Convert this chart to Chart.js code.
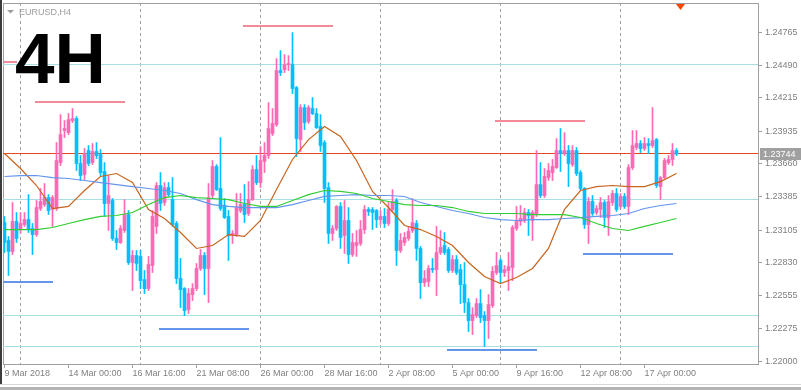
<!DOCTYPE html>
<html><head><meta charset="utf-8">
<script src="https://cdn.jsdelivr.net/npm/chart.js@4.4.1/dist/chart.umd.min.js"></script>
<style>html,body{margin:0;padding:0;background:#fff;overflow:hidden}#wrap{position:relative;width:801px;height:390px}</style>
</head><body><div id="wrap"><canvas id="c" width="801" height="390"></canvas></div>
<script>
const symbolTitle = 'EURUSD,H4';
const bigLabel = '4H';
const xTickIndex = [0,16,32,48,64,80,96,112,128,144,160];
const xTickLabels = ['9 Mar 2018','14 Mar 00:00','16 Mar 16:00','21 Mar 08:00','26 Mar 00:00','28 Mar 16:00','2 Apr 08:00','5 Apr 00:00','9 Apr 16:00','12 Apr 08:00','17 Apr 00:00'];
const yTickValues = [1.22000,1.22275,1.22555,1.22830,1.23105,1.23385,1.23660,1.23935,1.24215,1.24490,1.24765];
const gridIndex = [4,34,64,94,124,154];

const open = [1.23168,1.23017,1.22925,1.23177,1.23109,1.23151,1.23193,1.23118,1.23067,1.23286,
1.23319,1.23378,1.23278,1.23286,1.23672,1.23941,1.23924,1.24025,1.24042,1.23664,
1.23571,1.23773,1.23672,1.23765,1.23739,1.23597,1.23328,1.23353,1.23034,1.23000,
1.23101,1.23235,1.22832,1.22891,1.22883,1.22689,1.22613,1.22807,1.23135,1.23479,
1.23336,1.23462,1.23361,1.23160,1.22697,1.22613,1.22436,1.22562,1.22613,1.22782,
1.22891,1.22782,1.23395,1.23639,1.23454,1.23311,1.23219,1.23059,1.23067,1.23269,
1.23319,1.23244,1.23361,1.23613,1.23504,1.23681,1.23731,1.23916,1.23991,1.24445,
1.24453,1.24495,1.24495,1.24302,1.23865,1.24134,1.24017,1.24126,1.24084,1.23975,
1.23840,1.23462,1.23076,1.23118,1.23303,1.23059,1.23185,1.22899,1.22975,1.22992,
1.23109,1.23278,1.23278,1.23269,1.23193,1.23219,1.23160,1.23278,1.23353,1.22933,
1.23000,1.23034,1.23101,1.23160,1.22950,1.22663,1.22672,1.22782,1.22773,1.22916,
1.22975,1.22941,1.22765,1.22857,1.22773,1.22646,1.22495,1.22344,1.22386,1.22487,
1.22386,1.22344,1.22470,1.22748,1.22849,1.22748,1.22765,1.22790,1.23118,1.23177,
1.23185,1.23252,1.23185,1.23235,1.23487,1.23395,1.23546,1.23588,1.23630,1.23773,
1.23748,1.23773,1.23655,1.23773,1.23588,1.23454,1.23151,1.23345,1.23252,1.23278,
1.23336,1.23210,1.23336,1.23412,1.23303,1.23387,1.23303,1.23630,1.23798,1.23832,
1.23790,1.23832,1.23815,1.23865,1.23470,1.23546,1.23672,1.23698,1.23773];
const high = [1.23219,1.23051,1.23336,1.23252,1.23252,1.23252,1.23403,1.23160,1.23353,1.23454,
1.23496,1.23403,1.23395,1.23840,1.24075,1.24025,1.24084,1.24126,1.24059,1.23731,
1.23790,1.23815,1.23832,1.23840,1.23781,1.23672,1.23563,1.23370,1.23101,1.23143,
1.23361,1.23269,1.22933,1.22933,1.22933,1.22765,1.22883,1.23269,1.23504,1.23588,
1.23504,1.23504,1.23546,1.23177,1.22866,1.22621,1.22613,1.22655,1.22824,1.22941,
1.22916,1.23496,1.23689,1.23655,1.23882,1.23370,1.23269,1.23101,1.23412,1.23412,
1.23487,1.23512,1.23647,1.23731,1.23807,1.23840,1.24176,1.24126,1.24546,1.24613,
1.24579,1.24571,1.24764,1.24311,1.24159,1.24159,1.24151,1.24218,1.24126,1.24075,
1.23857,1.23504,1.23143,1.23311,1.23336,1.23353,1.23294,1.23076,1.23101,1.23185,
1.23311,1.23294,1.23294,1.23278,1.23269,1.23286,1.23336,1.23445,1.23370,1.23076,
1.23084,1.23135,1.23370,1.23185,1.22967,1.22765,1.22807,1.22866,1.23135,1.23101,
1.23084,1.22958,1.22891,1.22891,1.22815,1.22832,1.22529,1.22453,1.22529,1.22604,
1.22420,1.22562,1.22798,1.22916,1.22866,1.22807,1.22916,1.23143,1.23303,1.23311,
1.23286,1.23278,1.23269,1.23773,1.23672,1.23622,1.23664,1.23698,1.23874,1.23958,
1.23924,1.23815,1.23815,1.23798,1.23605,1.23462,1.23378,1.23395,1.23311,1.23378,
1.23353,1.23395,1.23437,1.23454,1.23412,1.23412,1.23655,1.23941,1.23941,1.23857,
1.23882,1.23874,1.24134,1.23874,1.23555,1.23706,1.23731,1.23832,1.23790];
const low = [1.22916,1.22723,1.22899,1.23000,1.23076,1.23135,1.23084,1.22899,1.23051,1.23269,
1.23303,1.23235,1.23135,1.23269,1.23647,1.23882,1.23907,1.24008,1.23605,1.23521,
1.23529,1.23647,1.23655,1.23706,1.23563,1.23219,1.23101,1.23017,1.22941,1.22992,
1.23084,1.22815,1.22596,1.22765,1.22613,1.22571,1.22596,1.22748,1.23076,1.23269,
1.23311,1.23387,1.23135,1.22655,1.22453,1.22386,1.22403,1.22512,1.22596,1.22765,
1.22562,1.22495,1.23378,1.23437,1.23269,1.23202,1.22849,1.22992,1.23051,1.23252,
1.23168,1.23227,1.23353,1.23487,1.23462,1.23588,1.23706,1.23899,1.23975,1.24403,
1.24428,1.24445,1.24252,1.23723,1.23765,1.23949,1.24000,1.24075,1.23958,1.23765,
1.23336,1.22992,1.23017,1.23101,1.22950,1.22908,1.22824,1.22883,1.22883,1.22975,
1.23076,1.23227,1.23109,1.23126,1.23151,1.23126,1.23143,1.23261,1.22807,1.22916,
1.22975,1.23017,1.23084,1.22849,1.22529,1.22630,1.22630,1.22748,1.22554,1.22899,
1.22899,1.22748,1.22748,1.22731,1.22487,1.22411,1.22252,1.22226,1.22369,1.22327,
1.22126,1.22193,1.22453,1.22731,1.22663,1.22714,1.22596,1.22680,1.23101,1.23143,
1.23168,1.23059,1.23017,1.23219,1.23378,1.23378,1.23521,1.23521,1.23622,1.23597,
1.23731,1.23470,1.23639,1.23563,1.23437,1.23118,1.22992,1.23227,1.23235,1.23210,
1.23126,1.23059,1.23311,1.23261,1.23286,1.23286,1.23235,1.23613,1.23781,1.23756,
1.23773,1.23748,1.23798,1.23462,1.23361,1.23538,1.23655,1.23647,1.23731];
const close = [1.23000,1.22925,1.23177,1.23034,1.23160,1.23193,1.23109,1.23067,1.23294,1.23345,
1.23378,1.23269,1.23378,1.23689,1.23907,1.23958,1.24033,1.24042,1.23664,1.23563,
1.23748,1.23664,1.23765,1.23731,1.23588,1.23328,1.23395,1.23034,1.23000,1.23118,
1.23235,1.22832,1.22891,1.22824,1.22680,1.22613,1.22815,1.23219,1.23479,1.23328,
1.23462,1.23403,1.23151,1.22697,1.22604,1.22428,1.22571,1.22613,1.22782,1.22891,
1.22782,1.23378,1.23639,1.23445,1.23286,1.23210,1.23059,1.23076,1.23294,1.23319,
1.23235,1.23361,1.23613,1.23504,1.23689,1.23731,1.23958,1.24000,1.24445,1.24428,
1.24495,1.24504,1.24294,1.23874,1.24134,1.24008,1.24134,1.24084,1.23966,1.23815,
1.23454,1.23076,1.23118,1.23303,1.23042,1.23185,1.22899,1.23000,1.23000,1.23109,
1.23278,1.23261,1.23252,1.23193,1.23219,1.23160,1.23278,1.23345,1.22933,1.23017,
1.23042,1.23093,1.23168,1.22950,1.22663,1.22697,1.22782,1.22773,1.22916,1.22958,
1.22916,1.22765,1.22857,1.22748,1.22646,1.22495,1.22344,1.22394,1.22487,1.22369,
1.22344,1.22478,1.22757,1.22807,1.22748,1.22773,1.22798,1.23126,1.23177,1.23202,
1.23252,1.23227,1.23252,1.23487,1.23395,1.23555,1.23605,1.23639,1.23773,1.23748,
1.23773,1.23664,1.23773,1.23580,1.23454,1.23151,1.23345,1.23244,1.23286,1.23336,
1.23210,1.23345,1.23412,1.23278,1.23387,1.23303,1.23630,1.23815,1.23832,1.23790,
1.23832,1.23815,1.23857,1.23479,1.23546,1.23689,1.23698,1.23773,1.23744];

const maStep = 4;
const maFast = [1.23748,1.23622,1.23479,1.23286,1.23303,1.23437,1.23555,1.23580,1.23504,1.23278,1.23202,1.23084,1.22950,1.22975,1.23067,1.23051,1.23185,1.23445,1.23698,1.23865,1.23975,1.23891,1.23689,1.23429,1.23294,1.23143,1.23109,1.23051,1.22975,1.22832,1.22714,1.22655,1.22706,1.22782,1.22950,1.23278,1.23437,1.23470,1.23479,1.23470,1.23470,1.23512,1.23580];
const maSlow = [1.23555,1.23563,1.23563,1.23546,1.23538,1.23521,1.23504,1.23487,1.23470,1.23454,1.23437,1.23412,1.23361,1.23319,1.23303,1.23294,1.23294,1.23294,1.23319,1.23353,1.23387,1.23395,1.23403,1.23395,1.23395,1.23387,1.23336,1.23303,1.23269,1.23244,1.23210,1.23193,1.23185,1.23193,1.23193,1.23202,1.23210,1.23219,1.23227,1.23244,1.23286,1.23311,1.23328];
const maMid = [1.23109,1.23109,1.23109,1.23126,1.23160,1.23193,1.23219,1.23227,1.23252,1.23319,1.23378,1.23395,1.23378,1.23370,1.23361,1.23328,1.23303,1.23303,1.23353,1.23403,1.23437,1.23429,1.23412,1.23370,1.23345,1.23319,1.23311,1.23311,1.23294,1.23261,1.23244,1.23244,1.23244,1.23235,1.23235,1.23235,1.23210,1.23160,1.23118,1.23101,1.23135,1.23168,1.23202];

const lastPrice = 1.23744;
const hLevels = [1.24495,1.23361,1.22386,1.22126];
const resPrice = [1.24521,1.24180,1.24819,1.24021];
const resFrom = [-0.1,7.6,59.6,122.6];
const resTo = [3.1,30.1,82.1,145.1];
const supPrice = [1.22668,1.22273,1.22096,1.22903];
const supFrom = [-0.4,38.6,110.6,144.6];
const supTo = [12.1,61.1,133.1,167.1];

const PINK = '#ff69b4', SKY = '#00bfff';
const AXIS = '#a0a0a0', TXT = '#808080';
const FONT = 'Liberation Sans';
const xMin = -0.375, xMax = 188.375, yMin = 1.21979, yMax = 1.25013;
const colors = close.map((c,i) => c >= open[i] ? PINK : SKY);

const ds = [];
ds.push({type:'bar', data: low.map((l,i)=>({x:i, y:[l, high[i]]})), backgroundColor: colors, barThickness:1, grouped:false, order:11});
ds.push({type:'bar', data: open.map((o,i)=>({x:i, y:[Math.min(o,close[i]), Math.max(o,close[i])]})), backgroundColor: colors, barThickness:3, minBarLength:1, grouped:false, order:10});
[[maMid,'#32cd32'],[maSlow,'#6495ed'],[maFast,'#c8641e']].forEach(([arr,col]) =>
  ds.push({type:'line', data: arr.map((v,k)=>({x:k*maStep, y:v})), borderColor: col, borderWidth:1.2, pointRadius:0, tension:0, order:5}));

function hLine(ctx, xs, ys, x0, x1, p, width, color) {
  const py = Math.round(ys.getPixelForValue(p) - width / 2) ;
  const a = Math.round(xs.getPixelForValue(x0)), b = Math.round(xs.getPixelForValue(x1));
  ctx.fillStyle = color;
  ctx.fillRect(a, py, b - a, width);
}

const deco = {
  id: 'deco',
  beforeDraw(chart) {
    const ctx = chart.ctx; ctx.save();
    ctx.fillStyle = '#fff'; ctx.fillRect(0,0,chart.width,chart.height);
    ctx.restore();
  },
  beforeDatasetsDraw(chart) {
    const ctx = chart.ctx, a = chart.chartArea, xs = chart.scales.x, ys = chart.scales.y; ctx.save();
    ctx.fillStyle = AXIS;
    ctx.fillRect(a.left, a.top, a.right - a.left, 1);
    ctx.fillRect(a.left, a.top, 1, a.bottom - a.top);
    hLevels.forEach(p => hLine(ctx, xs, ys, xMin, xMax, p, 1, '#a8dfe2'));
    hLine(ctx, xs, ys, xMin, xMax, lastPrice, 1, '#e8461c');
    ctx.restore();
  },
  afterDatasetsDraw(chart) {
    const ctx = chart.ctx, xs = chart.scales.x, ys = chart.scales.y; ctx.save();
    resPrice.forEach((p,k) => hLine(ctx, xs, ys, resFrom[k], resTo[k], p, 2, '#f48a98'));
    supPrice.forEach((p,k) => hLine(ctx, xs, ys, supFrom[k], supTo[k], p, 2, '#6495ed'));
    ctx.restore();
  },
  afterDraw(chart) {
    const ctx = chart.ctx, a = chart.chartArea, ys = chart.scales.y, xs = chart.scales.x;
    ctx.save();
    ctx.fillStyle = '#3c3c3c'; ctx.fillRect(0,0,2,384);
    ctx.fillStyle = '#d8d8d8'; ctx.fillRect(0,384,chart.width,1);
    ctx.fillStyle = '#b4b4b4'; ctx.fillRect(0,387,chart.width,3);
    ctx.fillStyle = '#9c9c9c';
    ctx.beginPath(); ctx.moveTo(7,10); ctx.lineTo(14,10); ctx.lineTo(10.5,13.5); ctx.closePath(); ctx.fill();
    ctx.font = '9px "' + FONT + '"'; ctx.textBaseline = 'alphabetic'; ctx.textAlign = 'left';
    ctx.fillText(symbolTitle, 19, 15);
    ctx.fillStyle = '#000';
    ctx.font = 'bold 71px "' + FONT + '"';
    ctx.fillText(bigLabel, 15, 83);
    const py = Math.round(ys.getPixelForValue(lastPrice));
    ctx.fillStyle = '#a0a0a0'; ctx.fillRect(a.right + 2, py - 6, chart.width - a.right - 2, 12);
    ctx.fillStyle = '#fff'; ctx.font = '9px "' + FONT + '"'; ctx.textBaseline = 'middle';
    ctx.fillText(lastPrice.toFixed(5), a.right + 5, py + 0.5);
    const tx = xs.getPixelForValue(close.length);
    ctx.fillStyle = '#ff4500';
    ctx.beginPath(); ctx.moveTo(tx - 4.5, a.top + 1); ctx.lineTo(tx + 4.5, a.top + 1); ctx.lineTo(tx, a.top + 7); ctx.closePath(); ctx.fill();
    ctx.restore();
  }
};

new Chart(document.getElementById('c'), {
  type: 'bar',
  data: { datasets: ds },
  plugins: [deco],
  options: {
    responsive: false, animation: false, events: [],
    layout: { padding: { left: 3, top: 3, right: 0, bottom: 0 } },
    plugins: { legend: { display: false }, tooltip: { enabled: false } },
    scales: {
      x: {
        type: 'linear', position: 'bottom', min: xMin, max: xMax, offset: false,
        grid: { drawOnChartArea: false, drawTicks: true, tickLength: 4, color: AXIS, offset: false },
        border: { display: true, color: AXIS },
        ticks: { autoSkip: false, maxRotation: 0, align: 'start', padding: 0, color: TXT,
          font: { family: FONT, size: 9 },
          callback: v => { const k = xTickIndex.indexOf(v); return k >= 0 ? xTickLabels[k] : ''; } },
        afterBuildTicks: s => { s.ticks = xTickIndex.map(v => ({ value: v })); },
        afterFit: s => { s.height = 26; s.paddingLeft = 0; s.paddingRight = 0; }
      },
      xg: {
        type: 'linear', position: 'top', min: xMin, max: xMax, offset: false,
        grid: { drawOnChartArea: true, drawTicks: false, color: '#a0a0a0', offset: false },
        border: { display: false, dash: [3, 3] },
        ticks: { display: false },
        afterBuildTicks: s => { s.ticks = gridIndex.map(v => ({ value: v })); },
        afterFit: s => { s.height = 0; s.paddingLeft = 0; s.paddingRight = 0; }
      },
      y: {
        type: 'linear', position: 'right', min: yMin, max: yMax, beginAtZero: false,
        grid: { drawOnChartArea: false, drawTicks: true, tickLength: 4, color: AXIS },
        border: { display: true, color: AXIS },
        ticks: { padding: 3, color: TXT, font: { family: FONT, size: 9 }, autoSkip: false,
          callback: v => Number(v).toFixed(5) },
        afterBuildTicks: s => { s.ticks = yTickValues.map(v => ({ value: v })); },
        afterFit: s => { s.width = 43; s.paddingTop = 0; s.paddingBottom = 0; }
      }
    }
  }
});
</script>
</body></html>
